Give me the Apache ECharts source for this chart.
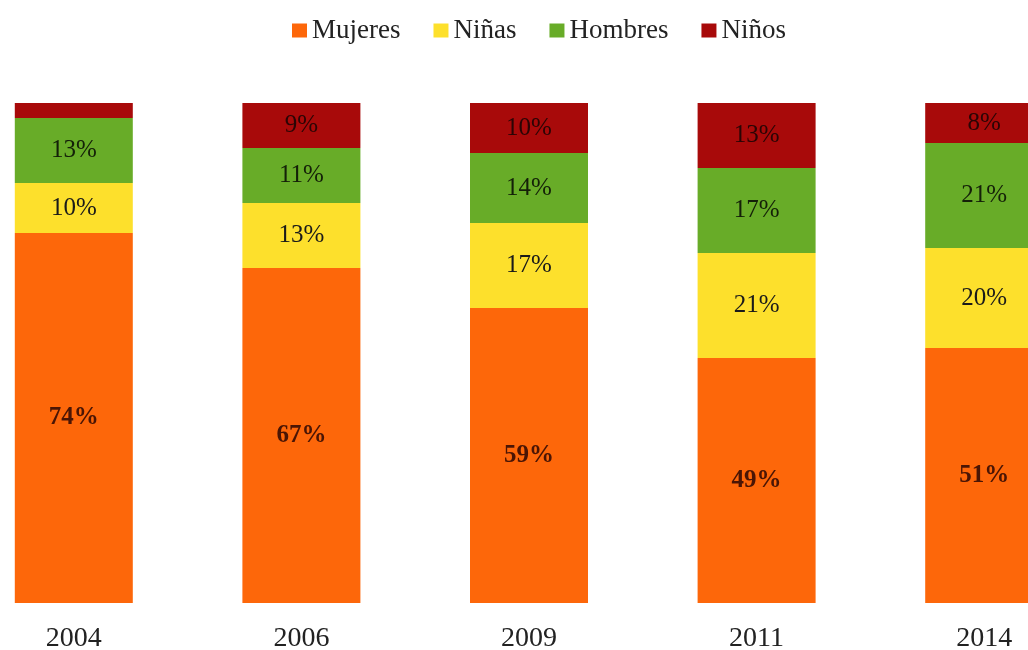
<!DOCTYPE html>
<html>
<head>
<meta charset="utf-8">
<script src="https://cdn.jsdelivr.net/npm/echarts@6/dist/echarts.min.js"></script>
<style>html,body{margin:0;padding:0;background:#fff;}#c{width:1028px;height:650px;}</style>
</head>
<body>
<div id="c"></div>
<script>
var years = ['2004', '2006', '2009', '2011', '2014'];
var mujeres = [74, 67, 59, 49, 51];
var ninas = [10, 13, 17, 21, 20];
var hombres = [13, 11, 14, 17, 21];
var ninos = [3, 9, 10, 13, 8];
var seriesNames = ['Mujeres', 'Niñas', 'Hombres', 'Niños'];

var font = 'Liberation Serif';
function mk(name, data, color, labelColor, bold, hideIdx) {
  return {
    name: name, type: 'bar', stack: 'total', barWidth: 118,
    itemStyle: { color: color },
    label: {
      show: true, position: 'inside', fontFamily: font, fontSize: 25,
      fontWeight: bold ? 'bold' : 'normal',
      color: labelColor, formatter: '{c}%'
    },
    data: data.map(function (v, i) {
      return hideIdx === i ? { value: v, label: { show: false } } : v;
    })
  };
}
var chart = echarts.init(document.getElementById('c'));
chart.setOption({
  animation: false,
  legend: {
    top: 12, left: 287, itemWidth: 15, itemHeight: 14, itemGap: 33,
    icon: 'rect',
    textStyle: { fontFamily: font, fontSize: 27, color: '#222' },
    data: seriesNames
  },
  grid: { left: -40, top: 103, width: 1138, bottom: 47, containLabel: false, outerBoundsMode: 'none' },
  xAxis: {
    type: 'category', data: years,
    axisLine: { show: false }, axisTick: { show: false },
    axisLabel: { fontFamily: font, fontSize: 28, color: '#222', margin: 22 }
  },
  yAxis: { type: 'value', min: 0, max: 100, show: false, splitLine: { show: false } },
  series: [
    mk(seriesNames[0], mujeres, '#FD670A', '#4a1505', true),
    mk(seriesNames[1], ninas, '#FDE02C', '#1a1a1a', false),
    mk(seriesNames[2], hombres, '#68AC28', '#142008', false),
    mk(seriesNames[3], ninos, '#A80A0A', '#2a0505', false, 0)
  ]
});
</script>
</body>
</html>
